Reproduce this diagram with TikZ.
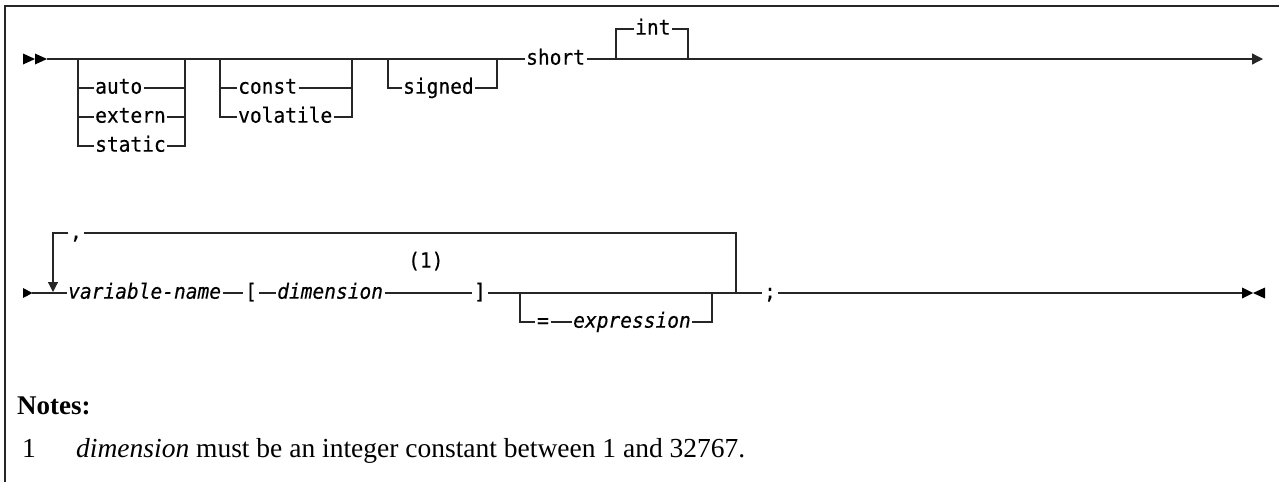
\documentclass[tikz,border=0pt]{standalone}
\usepackage{fontspec}
\setmainfont{Liberation Serif}
\newfontfamily\dmono[FakeStretch=0.93, FakeBold=0.4]{DejaVu Sans Mono}
\usetikzlibrary{arrows.meta}
\tikzset{
  syn/.style={font=\dmono\fontsize{21}{21}\selectfont, inner xsep=1.5pt, inner ysep=0pt,
              text height=13pt, text depth=1.6pt, anchor=west},
  synit/.style={syn, font=\dmono\itshape\fontsize{21}{21}\selectfont},
  rail/.style={line width=1.2pt, black!85},
  tip/.style={-{Triangle[length=11pt,width=11pt]}},
  note/.style={anchor=base west, inner sep=0pt, font=\fontsize{27.5}{27.5}\selectfont},
}
\begin{document}
\begin{tikzpicture}[x=1pt,y=-1pt]
\useasboundingbox (0,0) rectangle (1279,482);
% frame
\draw[line width=1.5pt, black!85] (5,482) -- (5,6) -- (1279,6);

% ---------- row 1 ----------
\fill (23,53.5) -- (35,59) -- (23,64.5) -- cycle;
\fill (35,53.5) -- (47,59) -- (35,64.5) -- cycle;
\coordinate (s1) at (47,59);
\coordinate (e1) at (1263,59);

\node[syn] (auto)     at (93.5,88)  {auto};
\node[syn] (extern)   at (93.5,117) {extern};
\node[syn] (static)   at (93.5,146) {static};
\node[syn] (const)    at (236.5,88) {const};
\node[syn] (volatile) at (236.5,117) {volatile};
\node[syn] (signed)   at (401.5,88) {signed};
\node[syn] (short)    at (524.5,59) {short};
\node[syn] (int)      at (633.5,29) {int};

\coordinate (g1a) at (78,59);  \coordinate (g1b) at (185,59);
\coordinate (g2a) at (220,59); \coordinate (g2b) at (352,59);
\coordinate (g3a) at (388,59); \coordinate (g3b) at (497,59);
\coordinate (g4a) at (616,59); \coordinate (g4b) at (688,59);

\draw[rail] (s1) -- (short.west);
\draw[rail,tip] (short.east) -- (e1);

\draw[rail] (g1a) |- (static.west);
\draw[rail] (g1a |- auto.west) -- (auto.west);
\draw[rail] (g1a |- extern.west) -- (extern.west);
\draw[rail] (g1b) |- (static.east);
\draw[rail] (auto.east) -- (g1b |- auto.east);
\draw[rail] (extern.east) -- (g1b |- extern.east);

\draw[rail] (g2a) |- (volatile.west);
\draw[rail] (g2a |- const.west) -- (const.west);
\draw[rail] (g2b) |- (volatile.east);
\draw[rail] (const.east) -- (g2b |- const.east);

\draw[rail] (g3a) |- (signed.west);
\draw[rail] (g3b) |- (signed.east);

\draw[rail] (g4a) |- (int.west);
\draw[rail] (g4b) |- (int.east);

% ---------- row 2 ----------
\fill (23,288) -- (32.5,293) -- (23,298) -- cycle;
\coordinate (s2) at (32,293);
\coordinate (e2) at (1242,293);
\fill (1242,287.5) -- (1253,293) -- (1242,298.5) -- cycle;
\fill (1265,287.5) -- (1253,293) -- (1265,298.5) -- cycle;

\node[synit] (varname) at (66.5,293) {variable-name};
\node[syn, anchor=center] (lbr) at (251,293) {[};
\node[synit] (dim) at (275.5,293) {dimension};
\node[syn] (ref1) at (406.5,262) {(1)};
\node[syn, anchor=center] (rbr) at (480,293) {]};
\node[syn, anchor=center] (eq) at (543,322) {=};
\node[synit] (expr) at (571.5,322) {expression};
\node[syn, anchor=center] (semi) at (770,293) {;};
\node[syn, anchor=center] (comma) at (76,233) {,};

\coordinate (ga) at (520,293); \coordinate (gb) at (712,293);
\coordinate (lp1) at (736,293); \coordinate (lp2) at (736,233);
\coordinate (lp4) at (53,292);

\draw[rail] (s2) -- (varname.west);
\draw[rail] (varname.east) -- (lbr.west);
\draw[rail] (lbr.east) -- (dim.west);
\draw[rail] (dim.east) -- (rbr.west);
\draw[rail] (rbr.east) -- (semi.west);
\draw[rail] (semi.east) -- (e2);

\draw[rail] (ga) |- (eq.west);
\draw[rail] (eq.east) -- (expr.west);
\draw[rail] (gb) |- (expr.east);

\draw[rail] (lp1) -- (lp2) -- (comma.east);
\draw[rail,-{Triangle[length=10pt,width=10pt]}] (comma.west) -| (lp4);

% ---------- notes ----------
\node[anchor=base west, inner sep=0pt, font=\bfseries\fontsize{27}{27}\selectfont] (notes) at (17,414) {Notes:};
\node[note] (n1) at (22,457) {1};
\node[note] (n1t) at (76,457) {\textit{dimension} must be an integer constant between 1 and 32767.};
\end{tikzpicture}
\end{document}
